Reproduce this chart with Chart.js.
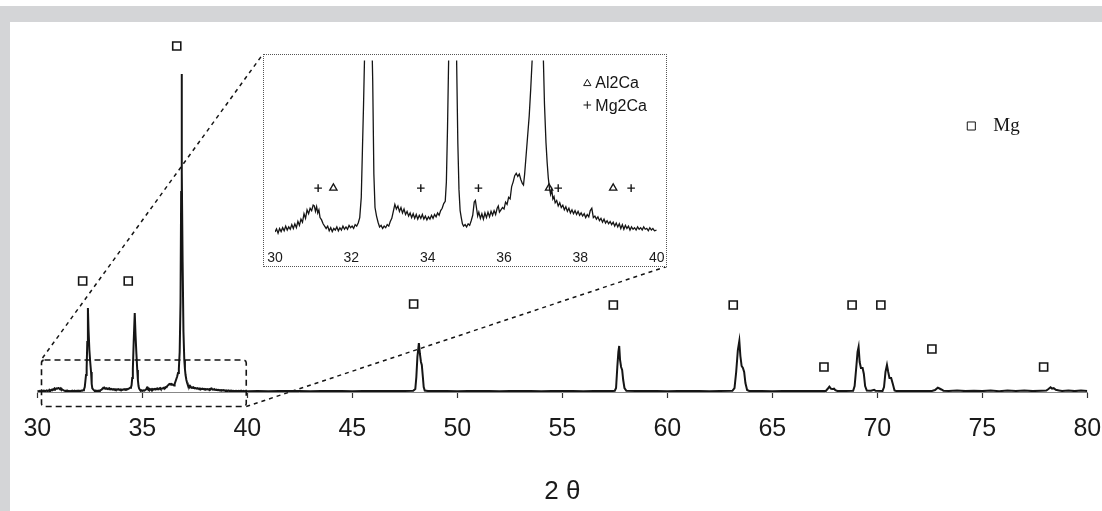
<!DOCTYPE html>
<html>
<head>
<meta charset="utf-8">
<script src="https://cdn.jsdelivr.net/npm/chart.js@4/dist/chart.umd.min.js"></script>
<style>
  html, body { margin: 0; padding: 0; background: #fff; }
  body { width: 1102px; height: 511px; position: relative; overflow: hidden; }
  #bandTop { position: absolute; left: 0; top: 6px; width: 1102px; height: 16px; background: #d4d5d7; }
  #bandLeft { position: absolute; left: 0; top: 6px; width: 10px; height: 505px; background: #d4d5d7; }
  #mainWrap { position: absolute; left: 10px; top: 22px; width: 1092px; height: 489px; }
  #insetWrap { position: absolute; left: 263px; top: 54px; width: 402px; height: 211px;
               border: 1px dotted #555; background: #fff; }
  canvas { display: block; }
</style>
</head>
<body>
<div id="bandTop"></div>
<div id="bandLeft"></div>
<div id="mainWrap"><canvas id="mainCanvas" width="1092" height="489"></canvas></div>
<div id="insetWrap"><canvas id="insetCanvas" width="402" height="211"></canvas></div>
<script>
// ---------- DATA ----------
// 2θ range 30–40 (also shown magnified in the inset)
const lowTheta = [
  30.00,30.04,30.08,30.12,30.16,30.20,30.24,30.28,30.32,30.36,
  30.40,30.44,30.48,30.52,30.56,30.60,30.64,30.68,30.72,30.76,
  30.80,30.84,30.88,30.92,30.96,31.00,31.03,31.06,31.09,31.12,
  31.15,31.18,31.22,31.26,31.30,31.34,31.38,31.42,31.46,31.50,
  31.54,31.58,31.62,31.66,31.70,31.74,31.78,31.82,31.86,31.90,
  31.94,31.98,32.02,32.06,32.10,32.14,32.18,32.22,32.26,32.29,
  32.32,32.35,32.38,32.41,32.44,32.48,32.52,32.56,32.59,32.62,
  32.66,32.70,32.74,32.78,32.82,32.86,32.90,32.94,32.98,33.02,
  33.06,33.10,33.14,33.18,33.22,33.26,33.30,33.34,33.38,33.42,
  33.46,33.50,33.54,33.58,33.62,33.66,33.70,33.74,33.78,33.82,
  33.86,33.90,33.94,33.98,34.02,34.06,34.10,34.14,34.18,34.22,
  34.26,34.30,34.34,34.38,34.42,34.46,34.49,34.52,34.55,34.59,
  34.64,34.68,34.72,34.76,34.79,34.82,34.85,34.88,34.91,34.94,
  34.98,35.02,35.06,35.10,35.14,35.18,35.22,35.25,35.28,35.31,
  35.34,35.38,35.42,35.46,35.50,35.54,35.58,35.62,35.66,35.70,
  35.74,35.78,35.82,35.85,35.88,35.92,35.96,36.00,36.04,36.08,
  36.12,36.16,36.20,36.24,36.28,36.32,36.36,36.40,36.44,36.48,
  36.51,36.54,36.58,36.62,36.66,36.70,36.74,36.78,36.82,36.85,
  36.87,36.89,36.92,36.96,37.00,37.03,37.06,37.10,37.13,37.16,
  37.19,37.22,37.25,37.28,37.31,37.34,37.38,37.42,37.46,37.50,
  37.54,37.58,37.62,37.66,37.70,37.74,37.78,37.82,37.86,37.90,
  37.94,37.98,38.02,38.06,38.10,38.14,38.18,38.22,38.26,38.30,
  38.34,38.38,38.42,38.46,38.50,38.54,38.58,38.62,38.66,38.70,
  38.74,38.78,38.82,38.86,38.90,38.94,38.98,39.02,39.06,39.10,
  39.14,39.18,39.22,39.26,39.30,39.34,39.38,39.42,39.46,39.50,
  39.54,39.58,39.62,39.66,39.70,39.74,39.78,39.82,39.86,39.90,
  39.94,40.00
];
const lowCounts = [
  0.55,0.95,0.4,1.0,0.6,1.1,0.7,1.3,0.8,1.2,
  0.9,1.5,1.0,1.6,1.1,1.9,1.4,2.2,1.8,2.9,
  2.3,3.4,2.9,3.6,3.3,4.0,3.9,3.2,3.8,3.0,
  3.4,2.4,2.1,1.6,1.3,1.0,1.3,0.7,1.1,0.6,
  1.0,0.8,1.2,0.7,1.1,0.8,1.3,0.9,1.2,0.9,
  1.4,1.1,1.3,1.0,1.5,1.3,1.7,2.4,5,11,
  17,24,50,84,62,42,30,20,8,3.7,
  2.6,1.8,1.2,1.4,1.0,1.3,1.1,1.5,1.3,1.9,
  2.3,3.2,4.1,3.5,3.9,3.2,3.7,3.0,3.5,2.8,
  3.2,2.6,3.0,2.4,2.9,2.3,2.8,2.2,2.7,2.3,
  2.8,2.2,2.6,2.1,2.5,2.2,2.7,2.3,2.8,2.5,
  3.0,2.7,3.3,3.6,4.2,4.5,7,14,23,50,
  79,56,38,22,12,6,3.3,2.4,1.6,1.3,
  1.5,1.2,1.6,1.4,2.0,2.7,4.4,4.6,3.6,2.6,
  3.1,2.3,2.9,2.2,3.0,2.4,3.1,2.5,3.2,2.7,
  3.3,2.8,3.6,3.9,3.1,3.4,3.7,3.5,4.4,4.1,
  5.0,4.8,6.4,7.0,7.8,8.1,7.7,8.0,7.3,6.8,
  6.6,8.0,10.5,13,15.5,19,23,40,90,200,
  318,220,130,60,32,23,17,12,9.5,7.5,
  6.2,5.4,6.0,4.8,5.1,4.3,4.6,3.9,4.3,3.7,
  4.0,3.4,3.8,3.2,3.6,3.0,3.4,2.9,3.3,2.8,
  3.2,2.7,3.0,2.6,2.9,2.4,2.8,2.5,3.3,3.6,
  2.4,2.6,2.2,2.5,2.0,2.3,1.8,2.2,1.7,2.0,
  1.6,1.9,1.5,1.8,1.3,1.7,1.2,1.6,1.0,1.5,
  0.9,1.4,1.0,1.3,0.8,1.2,0.9,1.1,0.8,1.2,
  0.9,1.1,0.8,1.2,0.9,1.0,0.7,1.1,0.8,1.0,
  0.7,0.8
];
// 2θ range 40–80
const highTheta = [
  40.5,41.0,41.5,42.0,42.5,43.0,43.5,44.0,44.5,45.0,
  45.5,46.0,46.5,47.0,47.5,47.9,48.00,48.05,48.10,48.17,
  48.22,48.27,48.31,48.36,48.40,48.45,48.6,49.0,49.5,50.0,
  50.5,51.0,51.5,52.0,52.5,53.0,53.5,54.0,54.5,55.0,
  55.5,56.0,56.5,57.0,57.4,57.50,57.56,57.62,57.67,57.71,
  57.75,57.80,57.85,57.90,57.96,58.05,58.5,59.0,59.5,60.0,
  60.5,61.0,61.5,62.0,62.5,63.1,63.20,63.28,63.36,63.43,
  63.48,63.54,63.60,63.66,63.72,63.80,63.9,64.5,65.0,65.5,
  66.0,66.5,67.0,67.55,67.65,67.72,67.80,67.88,67.94,68.0,
  68.1,68.5,68.85,68.92,69.00,69.06,69.11,69.16,69.22,69.30,
  69.36,69.42,69.50,69.7,69.85,69.92,70.25,70.32,70.39,70.46,
  70.52,70.58,70.66,70.74,70.82,70.9,71.5,72.0,72.6,72.75,
  72.88,72.96,73.05,73.15,73.4,73.8,74.2,74.6,75.0,75.4,
  75.8,76.2,76.6,77.0,77.4,77.8,78.05,78.15,78.25,78.32,
  78.40,78.5,78.65,78.8,79.1,79.4,79.7,80.0
];
const highCounts = [
  1.0,0.8,1.0,0.9,1.1,0.8,1.0,0.9,1.1,0.8,
  1.0,0.9,1.1,0.9,1.0,1.2,3,15,35,49,
  38,30,27,15,5,1.5,1.0,0.9,1.1,0.8,
  1.0,0.9,1.1,0.8,1.0,0.9,1.1,0.8,1.0,0.9,
  1.1,0.8,1.0,0.9,1.1,1.3,4,25,40,46,
  32,25,22,12,4,1.3,1.0,0.9,1.1,0.8,
  1.0,0.9,1.1,0.8,1.0,1.2,4,20,42,51,
  36,26,24,20,9,2,1.1,1.0,0.8,1.0,
  0.9,1.1,0.9,1.1,3.5,5.3,3.2,3.0,3.3,1.8,
  1.0,1.0,1.2,6,25,40,45,30,24,24,
  18,6,1.5,1.2,2.2,1.2,1.1,5,20,27,
  20,14,14,8,1.6,1.1,1.0,1.1,1.0,2.0,
  4.3,3.5,2.5,1.3,1.0,1.4,0.9,1.3,0.9,1.5,
  0.8,1.4,1.0,1.5,0.9,1.3,1.5,3.0,4.7,3.4,
  3.8,2.2,1.6,1.0,1.5,0.9,1.4,1.0
];
// Mg reflection markers (□)
const mgTheta = [32.16, 34.33, 36.64, 47.92, 57.43, 63.14, 67.46, 68.80, 70.17, 72.60, 77.92];
const mgMarkY = [111, 111, 346, 88, 87, 87, 25, 87, 87, 43, 25];
// inset phase markers
const al2caTheta = [31.53, 37.18, 38.86];
const mg2caTheta = [31.13, 33.82, 35.33, 37.42, 39.33];
const insetMarkY = 6.2;
// axis ticks
const mainTicks = [30, 35, 40, 45, 50, 55, 60, 65, 70, 75, 80];
const insetTicks = [30, 32, 34, 36, 38, 40];
const zoomWindow = { thetaMin: 30.2, thetaMax: 39.95, yMin: -14.5, yMax: 32 };

// ---------- BUILD ----------
const toXY = (xs, ys) => xs.map((x, i) => ({ x: x, y: ys[i] }));
const fullLine = toXY(lowTheta.concat(highTheta), lowCounts.concat(highCounts));
const insetLine = toXY(lowTheta, lowCounts);
const ink = '#151515';
const sans = "'Liberation Sans Narrow', 'Liberation Sans', Arial, sans-serif";
const noSidePad = s => { s.paddingLeft = 0; s.paddingRight = 0; };

function hollowMarker(ctx, style, r, bw, x, y) {
  ctx.save();
  ctx.fillStyle = 'rgba(255,255,255,0)';
  ctx.strokeStyle = ink;
  Chart.helpers.drawPoint(ctx, { pointStyle: style, radius: r, borderWidth: bw }, x, y);
  ctx.restore();
}

const mainDecor = {
  id: 'mainDecor',
  afterDraw(chart) {
    const ctx = chart.ctx, xs = chart.scales.x, ys = chart.scales.y;
    const L = xs.getPixelForValue(zoomWindow.thetaMin), R = xs.getPixelForValue(zoomWindow.thetaMax);
    const T = ys.getPixelForValue(zoomWindow.yMax), B = ys.getPixelForValue(zoomWindow.yMin);
    const cRect = chart.canvas.getBoundingClientRect();
    const iRect = document.getElementById('insetWrap').getBoundingClientRect();
    const iL = iRect.left - cRect.left, iT = iRect.top - cRect.top;
    const iR = iRect.right - cRect.left - 0.5, iB = iRect.bottom - cRect.top - 0.5;
    ctx.save();
    ctx.strokeStyle = ink;
    ctx.lineWidth = 1.6;
    ctx.setLineDash([6, 4]);
    ctx.beginPath();
    if (ctx.roundRect) ctx.roundRect(L, T, R - L, B - T, 3); else ctx.rect(L, T, R - L, B - T);
    ctx.stroke();
    ctx.setLineDash([4, 4]);
    ctx.lineWidth = 1.5;
    ctx.beginPath();
    ctx.moveTo(L + 1, T - 2); ctx.lineTo(iL, iT);
    ctx.moveTo(R, B); ctx.lineTo(iR, iB);
    ctx.stroke();
    ctx.setLineDash([]);
    ctx.restore();
    // legend: □ Mg
    const lx = chart.chartArea.right - 116, ly = chart.chartArea.top + 96;
    hollowMarker(ctx, 'rect', 5.7, 1.6, lx, ly);
    ctx.save();
    ctx.fillStyle = ink;
    ctx.font = "19px 'Liberation Serif', 'Times New Roman', serif";
    ctx.textBaseline = 'alphabetic';
    ctx.fillText('Mg', lx + 22, ly + 5);
    ctx.restore();
  }
};

new Chart(document.getElementById('mainCanvas'), {
  type: 'scatter',
  data: {
    datasets: [
      { label: 'XRD', data: fullLine, showLine: true, borderColor: ink, borderWidth: 2,
        pointRadius: 0, tension: 0, order: 2 },
      { label: 'Mg', data: toXY(mgTheta, mgMarkY), showLine: false, pointStyle: 'rect',
        pointRadius: 5.7, pointBackgroundColor: 'rgba(255,255,255,0)', pointBorderColor: ink,
        pointBorderWidth: 1.6, order: 1 }
    ]
  },
  options: {
    responsive: false, animation: false, events: [],
    layout: { padding: { left: 27.3, right: 14.7, top: 8, bottom: 0 } },
    plugins: { legend: { display: false }, tooltip: { enabled: false } },
    scales: {
      x: {
        type: 'linear', min: 30, max: 80,
        afterBuildTicks: s => { s.ticks = mainTicks.map(v => ({ value: v })); },
        ticks: { color: '#1a1a1a', font: { family: sans, size: 25 }, padding: 16,
                 maxRotation: 0, autoSkip: false },
        grid: { drawOnChartArea: false, drawTicks: true, tickLength: 6, tickColor: '#333', tickWidth: 1.2 },
        border: { display: true, color: '#888', width: 1 },
        title: { display: true, text: '2 θ', color: '#1a1a1a', font: { family: sans, size: 26 },
                 padding: { top: 0, bottom: 4 } },
        afterFit: s => { s.height = 119; noSidePad(s); }
      },
      y: { display: false, min: 0, max: 362 }
    }
  },
  plugins: [mainDecor]
});

const insetLegend = {
  id: 'insetLegend',
  afterDraw(chart) {
    const ctx = chart.ctx;
    const x = 323.3;
    hollowMarker(ctx, 'triangle', 4.2, 1.3, x, 28.5);
    hollowMarker(ctx, 'cross', 3.8, 1.4, x, 50);
    ctx.save();
    ctx.fillStyle = ink;
    ctx.font = "16px 'Liberation Sans', Arial, sans-serif";
    ctx.textBaseline = 'alphabetic';
    ctx.fillText('Al2Ca', x + 8, 33);
    ctx.fillText('Mg2Ca', x + 8, 56);
    ctx.restore();
  }
};

new Chart(document.getElementById('insetCanvas'), {
  type: 'scatter',
  data: {
    datasets: [
      { label: 'XRD (30–40)', data: insetLine, showLine: true, borderColor: ink, borderWidth: 1.3,
        pointRadius: 0, tension: 0, order: 3 },
      { label: 'Al2Ca', data: al2caTheta.map(t => ({ x: t, y: insetMarkY })), pointStyle: 'triangle',
        pointRadius: 4.2, pointBorderColor: ink, pointBackgroundColor: 'rgba(255,255,255,0)',
        pointBorderWidth: 1.3, order: 1 },
      { label: 'Mg2Ca', data: mg2caTheta.map(t => ({ x: t, y: insetMarkY })), pointStyle: 'cross',
        pointRadius: 3.8, pointBorderColor: ink, pointBorderWidth: 1.4, order: 2 }
    ]
  },
  options: {
    responsive: false, animation: false, events: [],
    layout: { padding: { left: 11, right: 9.3, top: 0, bottom: 0 } },
    plugins: { legend: { display: false }, tooltip: { enabled: false } },
    scales: {
      x: {
        type: 'linear', min: 30, max: 40,
        afterBuildTicks: s => { s.ticks = insetTicks.map(v => ({ value: v })); },
        ticks: { color: '#1a1a1a', font: { family: "'Liberation Sans', Arial, sans-serif", size: 14 },
                 padding: 6, maxRotation: 0, autoSkip: false },
        grid: { display: false, drawTicks: false },
        border: { display: false },
        afterFit: s => { s.height = 22; noSidePad(s); }
      },
      y: { display: false, min: -1, max: 22.625 }
    }
  },
  plugins: [insetLegend]
});
</script>
</body>
</html>
